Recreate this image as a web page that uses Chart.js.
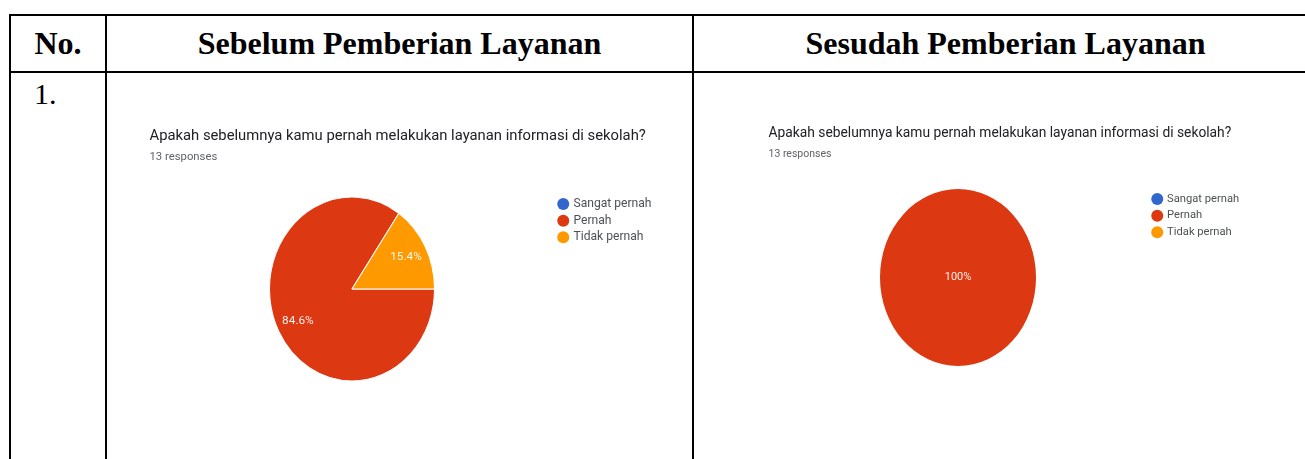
<!DOCTYPE html>
<html>
<head>
<meta charset="utf-8">
<script src="https://cdn.jsdelivr.net/npm/chart.js@4.4.0/dist/chart.umd.min.js"></script>
<style>
  html, body { margin: 0; padding: 0; background: #fff; width: 1305px; height: 459px; overflow: hidden; }
  table {
    position: absolute; left: 9px; top: 14px;
    border-collapse: collapse; table-layout: fixed; width: 1308px;
    font-family: "Liberation Serif", "Times New Roman", serif;
  }
  th, td { border: 2px solid #000; padding: 0; }
  th { height: 55px; font-size: 32px; font-weight: bold; text-align: center; }
  td { height: 420px; vertical-align: top; }
  td.no { font-size: 30px; text-align: left; padding: 4px 0 0 23px; }
  .kotak { position: absolute; top: 73px; height: 386px; }
  #kotakSebelum { left: 107px; width: 583px; }
  #kotakSesudah { left: 694px; width: 611px; }
</style>
</head>
<body>
<table>
  <colgroup><col style="width:96px"><col style="width:587px"><col style="width:625px"></colgroup>
  <tr><th>No.</th><th>Sebelum Pemberian Layanan</th><th>Sesudah Pemberian Layanan</th></tr>
  <tr><td class="no">1.</td><td></td><td></td></tr>
</table>
<div class="kotak" id="kotakSebelum"><canvas id="pieSebelum"></canvas></div>
<div class="kotak" id="kotakSesudah"><canvas id="pieSesudah"></canvas></div>

<script>
// data kuesioner
const kategori = ['Sangat pernah', 'Pernah', 'Tidak pernah'];
const warna = ['#3366cc', '#dc3912', '#ff9900'];
const pertanyaan = 'Apakah sebelumnya kamu pernah melakukan layanan informasi di sekolah?';
const jumlahRespon = 13;
const sebelum = [0, 11, 2];
const sesudah = [0, 13, 0];

Chart.defaults.font.family = 'Roboto, "Noto Sans", sans-serif';

// pie agak lonjong + persentase di dalam irisan
let elipsPlugin = {
  id: 'elips',
  beforeDatasetsDraw(chart, args, opts) {
    let arc = chart.getDatasetMeta(0).data[0];
    let ctx = chart.ctx;
    ctx.save();
    ctx.translate(arc.x, arc.y);
    ctx.scale(1, opts.skala);
    ctx.translate(-arc.x, -arc.y);
  },
  afterDatasetsDraw(chart, args, opts) {
    let ctx = chart.ctx;
    ctx.restore();
    let data = chart.data.datasets[0].data;
    let total = data.reduce((a, b) => a + b, 0);
    ctx.save();
    ctx.font = opts.ukuran + 'px Roboto';
    ctx.fillStyle = 'rgba(255,255,255,0.92)';
    ctx.textAlign = 'center';
    ctx.textBaseline = 'middle';
    chart.getDatasetMeta(0).data.forEach((arc, i) => {
      if (!data[i]) return;
      let persen = Math.round(data[i] / total * 1000) / 10;
      let x = arc.x, y = arc.y;
      if (persen < 100) {
        let tengah = (arc.startAngle + arc.endAngle) / 2;
        let r = arc.outerRadius * opts.jarak;
        x += Math.cos(tengah) * r;
        y += Math.sin(tengah) * r * opts.skala;
      }
      ctx.fillText(persen + '%', x, y);
    });
    ctx.restore();
  }
};

let buatPie = (id, nilai, g) => {
  let chart = new Chart(document.getElementById(id), {
    type: 'pie',
    data: {
      labels: kategori,
      datasets: [{ data: nilai, backgroundColor: warna, borderColor: '#fff', borderWidth: g.garis, radius: g.radius }]
    },
    options: {
      responsive: true,
      maintainAspectRatio: false,
      animation: false,
      events: [],
      rotation: 90,
      layout: { padding: { top: 0, left: 0, right: 0, bottom: g.bawah } },
      plugins: {
        title: {
          display: true, text: pertanyaan, align: 'start', color: '#202124',
          font: { size: g.judul, weight: 'normal' }, padding: { top: g.judulAtas, bottom: 0 }
        },
        subtitle: {
          display: true, text: jumlahRespon + ' responses', align: 'start', color: '#5f6368',
          font: { size: g.sub }, padding: { top: 5.4, bottom: g.subBawah }
        },
        legend: {
          position: 'right', align: 'start', fullSize: false,
          labels: {
            usePointStyle: true, pointStyle: 'circle', boxWidth: 8.5, boxHeight: 8.5,
            padding: g.jeda, color: '#4d5156', font: { size: g.legenda },
            // titik legenda tanpa garis tepi putih
            generateLabels: (c) => Chart.controllers.pie.overrides.plugins.legend.labels.generateLabels(c)
              .map(item => Object.assign(item, { lineWidth: 0 }))
          }
        },
        tooltip: { enabled: false },
        elips: { skala: g.skala, jarak: 0.74, ukuran: g.label }
      }
    },
    plugins: [elipsPlugin]
  });
  // atur posisi legenda dan pusat pie
  let lebarLegenda = chart.legend.width;
  chart.options.layout.padding.left = 2 * g.cx - g.legendaX;
  chart.options.layout.padding.right = chart.width - g.legendaX - lebarLegenda;
  chart.update();
  return chart;
};

buatPie('pieSebelum', sebelum, {
  radius: 82.5, skala: 1.115, cx: 245, legendaX: 447.5, bawah: 74.5, garis: 1,
  judul: 14.8, judulAtas: 54.1, sub: 11.3, subBawah: 29.7,
  legenda: 12.1, jeda: 4.5, label: 11.8
});
buatPie('pieSesudah', sesudah, {
  radius: 78, skala: 1.135, cx: 264, legendaX: 453.5, bawah: 91.9, garis: 0,
  judul: 13.8, judulAtas: 52.7, sub: 10.5, subBawah: 27.6,
  legenda: 11.2, jeda: 5.5, label: 11
});
</script>
</body>
</html>
